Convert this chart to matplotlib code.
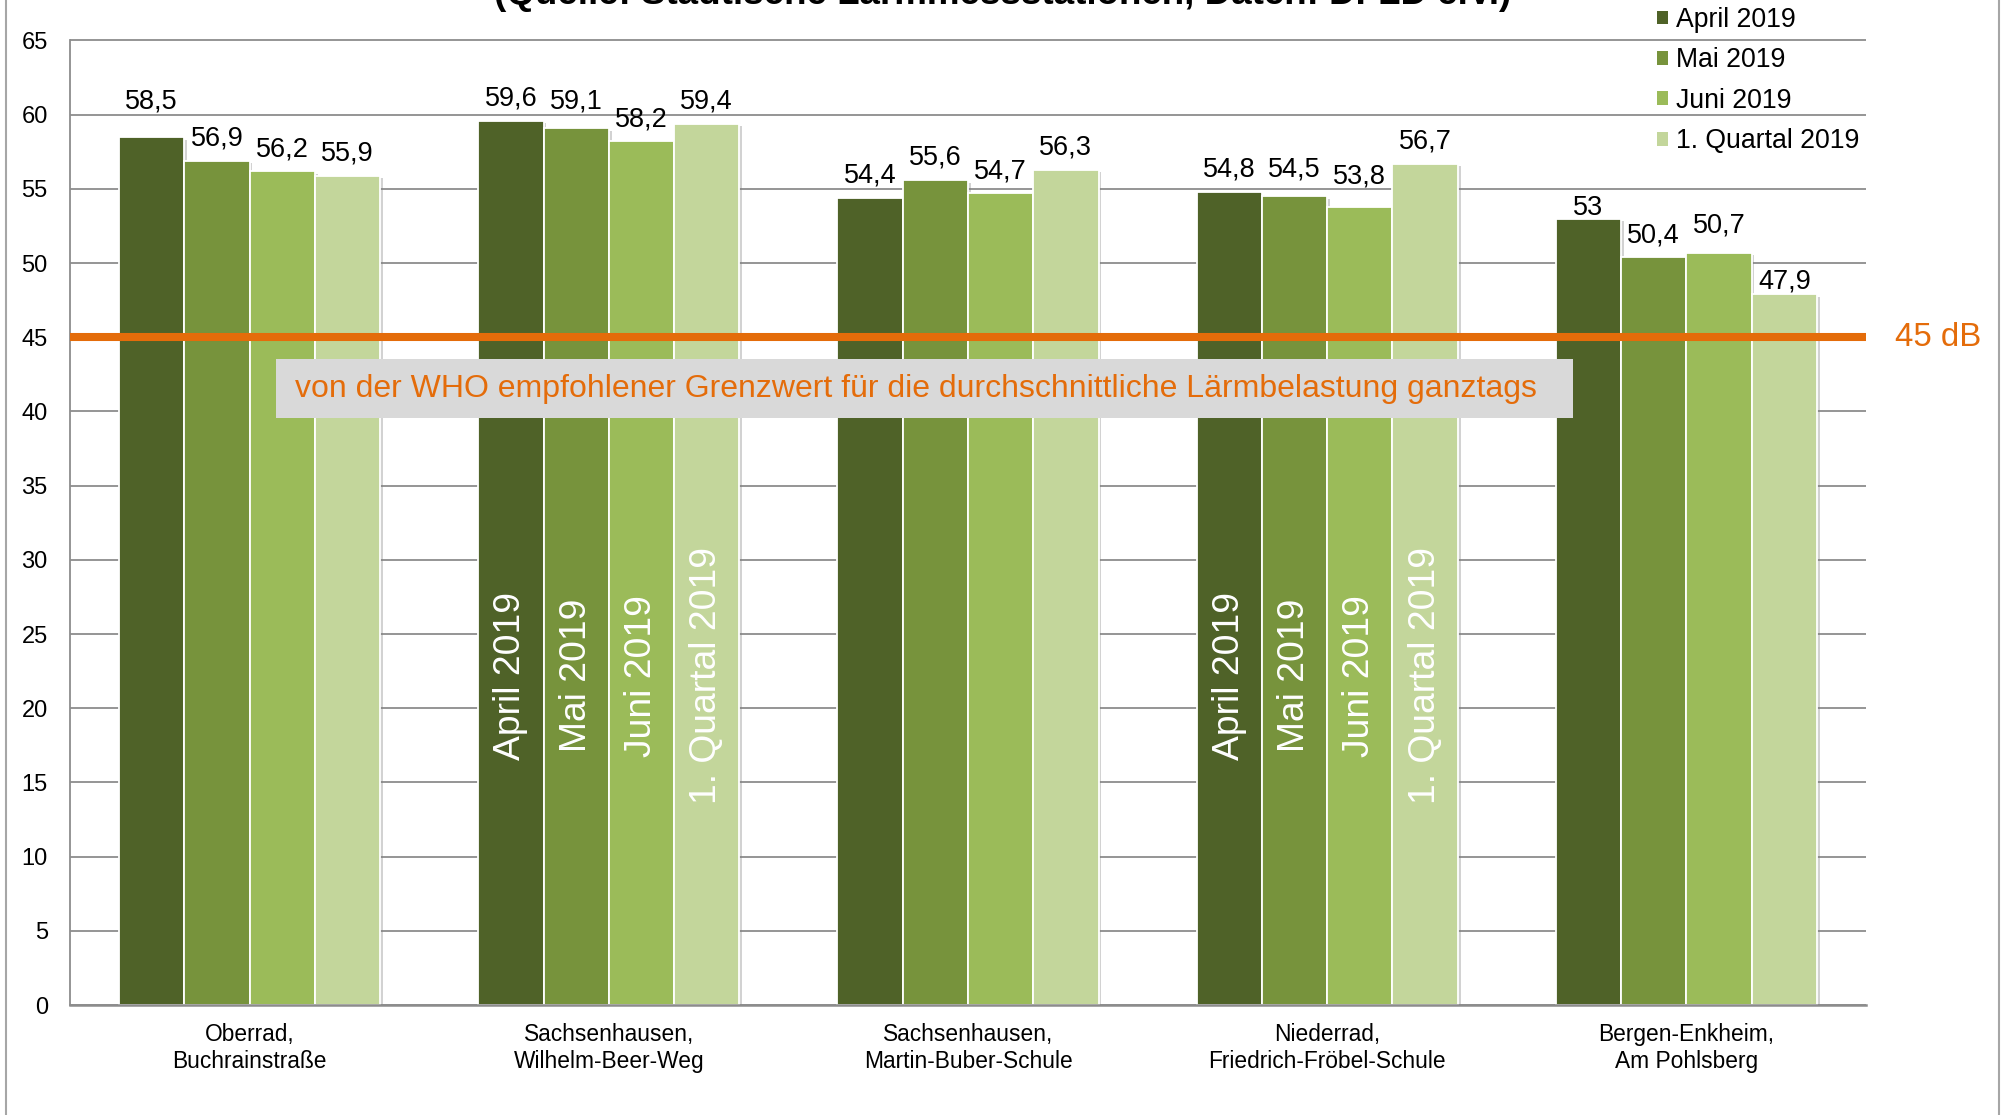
import matplotlib
matplotlib.use("Agg")
import matplotlib.pyplot as plt
import matplotlib.patheffects as pe
import matplotlib.transforms as mtransforms
from matplotlib.patches import Patch, Rectangle
from matplotlib.lines import Line2D
import numpy as np

plt.rcParams["font.family"] = ["Liberation Sans", "DejaVu Sans"]

# Messstationen und Mittelwerte (dB)
stationen = [
    "Oberrad,\nBuchrainstraße",
    "Sachsenhausen,\nWilhelm-Beer-Weg",
    "Sachsenhausen,\nMartin-Buber-Schule",
    "Niederrad,\nFriedrich-Fröbel-Schule",
    "Bergen-Enkheim,\nAm Pohlsberg",
]
zeitraeume = ["April 2019", "Mai 2019", "Juni 2019", "1. Quartal 2019"]
april = [58.5, 59.6, 54.4, 54.8, 53.0]
mai = [56.9, 59.1, 55.6, 54.5, 50.4]
juni = [56.2, 58.2, 54.7, 53.8, 50.7]
quartal = [55.9, 59.4, 56.3, 56.7, 47.9]
beschriftung = ["58,5", "59,6", "54,4", "54,8", "53",
                "56,9", "59,1", "55,6", "54,5", "50,4",
                "56,2", "58,2", "54,7", "53,8", "50,7",
                "55,9", "59,4", "56,3", "56,7", "47,9"]
grenzwert = 45
grenzwert_text = "von der WHO empfohlener Grenzwert für die durchschnittliche Lärmbelastung ganztags"
titel = "(Quelle: Städtische Lärmmessstationen, Daten: DFLD e.V.)"

werte = [april, mai, juni, quartal]
farben = ["#4F6228", "#77933C", "#9BBB59", "#C3D69B"]

# Abstand der Wertelabels über dem Balken (Pixel), einige manuell verschoben
label_abstand = np.full((4, 5), 15.0)
label_abstand[0, 0] = 28
label_abstand[1, 1] = 20
label_abstand[1, 3] = 20
label_abstand[2, 3] = 23
label_abstand[0, 4] = 4
label_abstand[2, 4] = 20
label_abstand[3, 4] = 6

W, H = 2004, 1115
fig = plt.figure(figsize=(W / 100, H / 100), dpi=100)
x0, x1 = 70, 1866
y_null, y_65 = 1005, 40.5
px_pro_db = (y_null - y_65) / 65
ytop = 66
ax = fig.add_axes([x0 / W, 1 - y_null / H, (x1 - x0) / W, ytop * px_pro_db / H])

x = np.arange(len(stationen))
breite = 0.1817
schatten = [pe.SimplePatchShadow(offset=(2, -2), shadow_rgbFace="#808080", alpha=0.35), pe.Normal()]

for i, (serie, farbe) in enumerate(zip(werte, farben)):
    pos = x + (i - 1.5) * breite
    bars = ax.bar(pos, serie, width=breite, color=farbe, edgecolor="white",
                  linewidth=1.3, zorder=2)
    for b in bars:
        b.set_path_effects(schatten)
    for j, (p, v) in enumerate(zip(pos, serie)):
        ax.annotate(beschriftung[i * 5 + j], (p, v), xytext=(0, label_abstand[i, j] * 0.72),
                    textcoords="offset points", ha="center", va="baseline",
                    fontsize=19.5, color="black", zorder=5)
    # Beschriftung in den Balken der 2. und 4. Station
    for j in (1, 3):
        ax.text(pos[j], 22.2, zeitraeume[i], rotation=90, ha="center", va="center",
                fontsize=26.8, color="white", zorder=5)

# WHO-Grenzwert
ax.axhline(grenzwert, color="#E46C0A", lw=5.8, zorder=4, solid_capstyle="butt")
mix = mtransforms.blended_transform_factory(ax.transAxes, ax.transData)
ax.text(1 + (1895 - x1) / (x1 - x0), grenzwert, "45 dB", transform=mix,
        ha="left", va="center", fontsize=23.8, color="#E46C0A")

box_x0 = (276 - x0) / (x1 - x0)
box_w = (1573 - 276) / (x1 - x0)
box_y0 = (y_null - 418) / px_pro_db
box_h = (418 - 359) / px_pro_db
ax.add_patch(Rectangle((box_x0, box_y0), box_w, box_h, transform=mix,
                       facecolor="#D9D9D9", edgecolor="none", zorder=6))
ax.text(box_x0 + box_w / 2 - 9 / (x1 - x0), box_y0 + box_h / 2, grenzwert_text,
        transform=mix, ha="center", va="center", fontsize=23, color="#E46C0A", zorder=7)

# Achsen
ax.set_xlim(-0.5, len(stationen) - 0.5)
ax.set_ylim(0, ytop)
ax.set_yticks(np.arange(0, 66, 5))
ax.set_xticks(x)
ax.set_xticklabels(stationen, fontsize=16.4, linespacing=1.2)
ax.tick_params(axis="y", length=0, pad=16, labelsize=17)
ax.tick_params(axis="x", length=0, pad=13)
ax.grid(axis="y", color="#8C8C8C", lw=1.3, zorder=0)
ax.set_axisbelow(True)
for s in ("top", "right"):
    ax.spines[s].set_visible(False)
ax.spines["left"].set_bounds(0, 65)
ax.spines["left"].set_color("#8C8C8C")
ax.spines["left"].set_linewidth(1.3)
ax.spines["bottom"].set_color("#8C8C8C")
ax.spines["bottom"].set_linewidth(1.8)
ax.spines["bottom"].set_zorder(3)

# Legende
handles = [Patch(facecolor=f, edgecolor="none") for f in farben]
fig.legend(handles, zeitraeume, loc="upper left", bbox_to_anchor=(1657 / W, 1 - 7 / H),
           frameon=False, fontsize=19.2, handlelength=0.42, handleheight=0.42,
           handletextpad=0.28, labelspacing=0.54, borderaxespad=0, borderpad=0)

# Titel (oben abgeschnitten)
fig.text(1003 / W, 1 - 4 / H, titel, ha="center", va="baseline", fontsize=26.5,
         fontweight="bold", color="black")

# Rahmen
for xr in (6, 1999):
    fig.add_artist(Line2D([xr / W] * 2, [0, 1], color="#A6A6A6", lw=1.5,
                          transform=fig.transFigure))

fig.savefig("out.png", dpi=100, facecolor="white")
